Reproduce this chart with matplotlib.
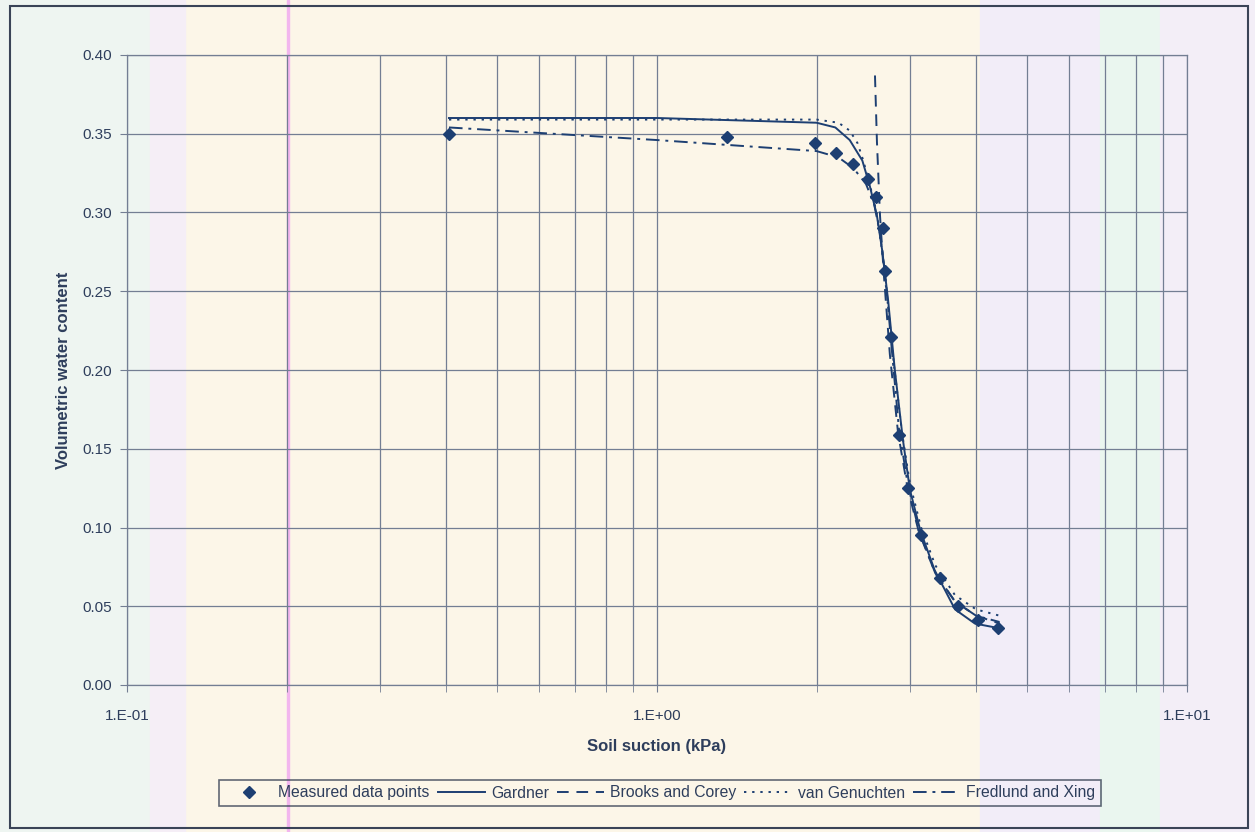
import numpy as np
import matplotlib.pyplot as plt
from matplotlib.patches import Rectangle
from matplotlib.ticker import FixedLocator, LogLocator, NullFormatter

plt.rcParams['font.family'] = ['Liberation Sans', 'DejaVu Sans']

# measured points
meas_x = [0.405, 1.356, 1.99, 2.18, 2.34, 2.50, 2.59, 2.67, 2.69, 2.76, 2.86, 2.98, 3.15, 3.42, 3.70, 4.03, 4.40]
meas_y = [0.350, 0.348, 0.344, 0.338, 0.331, 0.321, 0.310, 0.290, 0.263, 0.221, 0.159, 0.125, 0.095, 0.068, 0.050, 0.041, 0.036]

# fitted curves
gard_x = [0.405, 1.0, 2.0, 2.17, 2.31, 2.44, 2.52, 2.60, 2.66, 2.73, 2.81, 2.91, 3.00, 3.14, 3.34, 3.65, 3.98, 4.43]
gard_y = [0.360, 0.360, 0.357, 0.354, 0.346, 0.333, 0.317, 0.298, 0.276, 0.244, 0.200, 0.156, 0.124, 0.098, 0.073, 0.048, 0.039, 0.036]

bc_x = [2.578, 2.60, 2.635, 2.68, 2.75, 2.85, 2.97, 3.12, 3.35, 3.65, 4.0, 4.43]
bc_y = [0.387, 0.345, 0.298, 0.260, 0.210, 0.160, 0.125, 0.097, 0.071, 0.053, 0.044, 0.039]

vg_x = [0.405, 1.0, 2.0, 2.2, 2.31, 2.39, 2.45, 2.52, 2.60, 2.66, 2.72, 2.80, 2.90, 3.00, 3.15, 3.35, 3.65, 4.0, 4.43]
vg_y = [0.359, 0.359, 0.359, 0.357, 0.352, 0.344, 0.333, 0.318, 0.299, 0.275, 0.245, 0.203, 0.160, 0.128, 0.100, 0.076, 0.057, 0.048, 0.044]

fx_x = [0.405, 1.0, 2.0, 2.2, 2.35, 2.48, 2.57, 2.64, 2.70, 2.77, 2.86, 2.97, 3.12, 3.35, 3.65, 4.0, 4.43]
fx_y = [0.354, 0.346, 0.339, 0.335, 0.328, 0.318, 0.305, 0.285, 0.258, 0.215, 0.163, 0.128, 0.098, 0.071, 0.053, 0.044, 0.040]

navy = '#1d3f72'
txt = '#2e3e5c'
grid_c = '#737e93'

fig = plt.figure(figsize=(12.55, 8.32), dpi=100, facecolor='#fcf6e8')

# faint scanner colour bands in the background
bands = [(0, 150, '#eef5f1'), (150, 185, '#f5eef6'), (980, 1100, '#f2edf8'),
         (1100, 1160, '#eaf6ef'), (1160, 1255, '#f3eef7')]
for x0, x1, c in bands:
    fig.patches.append(Rectangle((x0 / 1255, 0), (x1 - x0) / 1255, 1,
                                 transform=fig.transFigure, color=c, zorder=-5))
fig.patches.append(Rectangle((287 / 1255, 0), 1.5 / 1255, 1, transform=fig.transFigure,
                             color='#f2b6ee', zorder=-4))
# outer chart frame
fig.patches.append(Rectangle((10 / 1255, 4 / 832), 1238 / 1255, 822 / 832, transform=fig.transFigure,
                             fill=False, edgecolor='#3a4457', lw=1.5))

ax = fig.add_axes([127 / 1255, 1 - 685 / 832, 1060 / 1255, 630 / 832])
ax.set_facecolor('none')
ax.set_xscale('log')
ax.set_xlim(0.1, 10)
ax.set_ylim(0, 0.4)

ax.xaxis.set_major_locator(FixedLocator([0.1, 1, 10]))
ax.xaxis.set_minor_locator(LogLocator(base=10, subs=np.arange(2, 10)))
ax.xaxis.set_minor_formatter(NullFormatter())
ax.set_xticklabels(['1.E-01', '1.E+00', '1.E+01'])
ax.set_yticks(np.arange(0, 0.401, 0.05))
ax.set_yticklabels(['%.2f' % v for v in np.arange(0, 0.401, 0.05)])

ax.grid(True, which='both', axis='x', color=grid_c, lw=0.9)
ax.grid(True, which='major', axis='y', color=grid_c, lw=0.9)
ax.tick_params(axis='both', which='both', direction='out', colors=grid_c,
               labelcolor=txt, labelsize=11)
ax.tick_params(axis='x', which='major', length=5, pad=12)
ax.tick_params(axis='x', which='minor', length=5)
ax.tick_params(axis='y', length=5, pad=6)
for s in ax.spines.values():
    s.set_color(grid_c)
    s.set_linewidth(0.9)

ax.plot(meas_x, meas_y, linestyle='none', marker='D', ms=6, color=navy,
        label='Measured data points', zorder=5)
ax.plot(gard_x, gard_y, '-', color=navy, lw=1.4, label='Gardner')
ax.plot(bc_x, bc_y, color=navy, lw=1.4, dashes=(6, 4), label='Brooks and Corey')
ax.plot(vg_x, vg_y, color=navy, lw=1.4, dashes=(1.2, 3), label='van Genuchten')
ax.plot(fx_x, fx_y, color=navy, lw=1.4, dashes=(7, 3, 1.5, 3), label='Fredlund and Xing')

ax.set_xlabel('Soil suction (kPa)', fontsize=12, fontweight='bold', color=txt, labelpad=12)
ax.set_ylabel('Volumetric water content', fontsize=12, fontweight='bold', color=txt, labelpad=8)

leg = fig.legend(loc='center', bbox_to_anchor=(660 / 1255, 1 - 793 / 832), ncol=5,
                 frameon=True, fancybox=False, fontsize=11.3, handlelength=3,
                 columnspacing=0.5, handletextpad=0.4, borderpad=0.35)
leg.get_frame().set_edgecolor('#3a4457')
leg.get_frame().set_facecolor('none')
leg.get_frame().set_linewidth(1.2)
for t in leg.get_texts():
    t.set_color(txt)

fig.savefig('out.png', dpi=100, facecolor=fig.get_facecolor())
